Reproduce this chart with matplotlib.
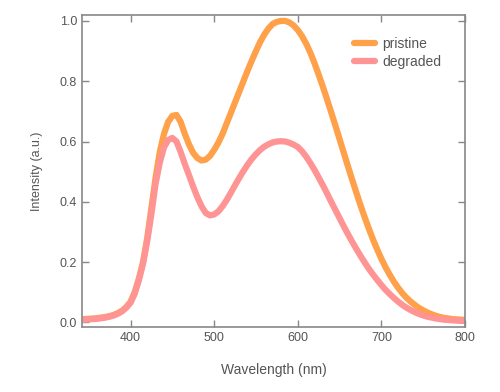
import matplotlib
matplotlib.use("Agg")
import matplotlib.pyplot as plt

plt.rcParams["font.family"] = ["Liberation Sans", "DejaVu Sans"]

# Emission spectra, every 5 nm from 340 to 800 nm
wavelength = list(range(340, 805, 5))

pristine = [0.010, 0.011, 0.012, 0.013, 0.014, 0.016, 0.018, 0.021, 0.025, 0.031,
            0.039, 0.051, 0.068, 0.10, 0.145, 0.20, 0.28, 0.38, 0.48, 0.565,
            0.625, 0.665, 0.685, 0.688, 0.665, 0.625, 0.59, 0.562, 0.545, 0.537,
            0.54, 0.552, 0.572, 0.596, 0.625, 0.66, 0.695, 0.73, 0.765, 0.80,
            0.835, 0.868, 0.90, 0.93, 0.955, 0.975, 0.99, 0.997, 1.0, 1.0,
            0.995, 0.985, 0.97, 0.95, 0.925, 0.895, 0.86, 0.822, 0.782, 0.74,
            0.697, 0.653, 0.608, 0.563, 0.518, 0.474, 0.431, 0.389, 0.349, 0.311,
            0.275, 0.242, 0.211, 0.183, 0.158, 0.135, 0.115, 0.097, 0.082, 0.069,
            0.058, 0.048, 0.040, 0.033, 0.027, 0.022, 0.018, 0.015, 0.013, 0.011,
            0.010, 0.009, 0.008]

degraded = [0.008, 0.009, 0.010, 0.011, 0.012, 0.014, 0.016, 0.019, 0.023, 0.029,
            0.037, 0.049, 0.065, 0.095, 0.14, 0.195, 0.27, 0.36, 0.46, 0.53,
            0.58, 0.605, 0.612, 0.60, 0.565, 0.525, 0.488, 0.45, 0.415, 0.385,
            0.363, 0.355, 0.358, 0.368, 0.385, 0.406, 0.43, 0.455, 0.479, 0.502,
            0.523, 0.542, 0.558, 0.572, 0.583, 0.591, 0.597, 0.600, 0.601, 0.600,
            0.596, 0.590, 0.582, 0.568, 0.550, 0.529, 0.506, 0.481, 0.455, 0.428,
            0.400, 0.373, 0.346, 0.319, 0.293, 0.268, 0.244, 0.221, 0.199, 0.178,
            0.159, 0.141, 0.124, 0.108, 0.094, 0.081, 0.069, 0.058, 0.049, 0.041,
            0.034, 0.028, 0.023, 0.019, 0.016, 0.013, 0.011, 0.009, 0.008, 0.007,
            0.006, 0.005, 0.005]

xticks = [400, 500, 600, 700, 800]
yticks = [0.0, 0.2, 0.4, 0.6, 0.8, 1.0]

fig = plt.figure(figsize=(5, 3.92), dpi=100)
ax = fig.add_axes([0.164, 0.166, 0.766, 0.796])

ax.plot(wavelength, pristine, color="#FFA04A", lw=4.5, label="pristine",
        solid_capstyle="round", solid_joinstyle="round")
ax.plot(wavelength, degraded, color="#FF9494", lw=4.5, label="degraded",
        solid_capstyle="round", solid_joinstyle="round")

ax.set_xlim(342, 800)
ax.set_ylim(-0.015, 1.02)
ax.set_xticks(xticks)
ax.set_yticks(yticks)
ax.set_yticklabels([f"{v:.1f}" for v in yticks])

text_color = "#555555"
for s in ax.spines.values():
    s.set_color("#888888")
    s.set_linewidth(1.2)
ax.tick_params(direction="in", top=True, right=True, length=5, width=1,
               color="#888888", labelcolor=text_color, labelsize=9)

ax.set_xlabel("Wavelength (nm)", color=text_color, fontsize=10, labelpad=14)
ax.set_ylabel("Intensity (a.u.)", color=text_color, fontsize=9, labelpad=12)

leg = ax.legend(loc="upper right", frameon=False, fontsize=10,
                handlelength=1.5, handletextpad=0.5, labelspacing=0.3,
                bbox_to_anchor=(0.97, 0.97))
for t in leg.get_texts():
    t.set_color(text_color)

fig.savefig("out.png", dpi=100)
